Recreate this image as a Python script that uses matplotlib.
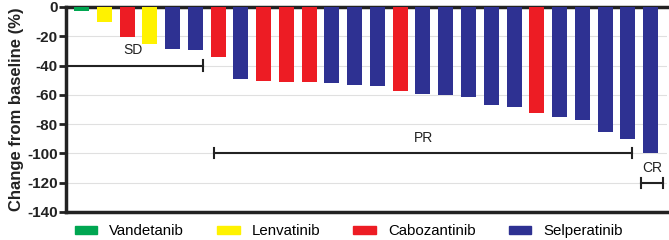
import matplotlib.pyplot as plt
from matplotlib.patches import Patch

plt.rcParams['font.family'] = ['Liberation Sans', 'DejaVu Sans']
plt.rcParams['axes.unicode_minus'] = False

# best change from baseline per patient, sorted
drugs = ['Vandetanib', 'Lenvatinib', 'Cabozantinib', 'Lenvatinib',
         'Selperatinib', 'Selperatinib', 'Cabozantinib', 'Selperatinib',
         'Cabozantinib', 'Cabozantinib', 'Cabozantinib', 'Selperatinib',
         'Selperatinib', 'Selperatinib', 'Cabozantinib', 'Selperatinib',
         'Selperatinib', 'Selperatinib', 'Selperatinib', 'Selperatinib',
         'Cabozantinib', 'Selperatinib', 'Selperatinib', 'Selperatinib',
         'Selperatinib', 'Selperatinib']
change = [-3, -10.4, -20.4, -25, -29, -29.4, -34, -49.2, -50.5, -51, -51.4,
          -51.9, -53.5, -53.9, -57.5, -59.4, -60, -61.6, -66.7, -68, -72.5,
          -75, -77, -85.5, -90.2, -100]

legend_order = ['Vandetanib', 'Lenvatinib', 'Cabozantinib', 'Selperatinib']
colors = {'Vandetanib': '#00a651', 'Lenvatinib': '#fff200',
          'Cabozantinib': '#ed1c24', 'Selperatinib': '#2e3192'}

# response groups: (label, start, end, y)
groups = [('SD', -0.68, 5.34, -40), ('PR', 5.82, 24.19, -100),
          ('CR', 24.57, 25.54, -120)]

fig = plt.figure(figsize=(6.69, 2.4), dpi=100)
ax = fig.add_axes([0.0987, 0.117, 0.8983, 0.854])

x = list(range(len(change)))
ax.bar(x, change, width=0.66, color=[colors[d] for d in drugs], zorder=3)

for name, x0, x1, y in groups:
    ax.plot([x0, x1], [y, y], color='#222222', lw=1.5, zorder=4, clip_on=False)
    ends = [x1] if name == 'SD' else [x0, x1]
    for xe in ends:
        ax.plot([xe, xe], [y - 3.5, y + 3.5], color='#222222', lw=1.5, zorder=4)
    ax.text((x0 + x1) / 2 if name != 'SD' else 2.26, y + 5.5, name,
            ha='center', va='bottom', fontsize=10, color='#222222')

ax.set_xlim(-0.68, 25.72)
ax.set_ylim(-140, 0)
ax.set_yticks(range(-140, 1, 20))
ax.set_xticks([])
ax.yaxis.grid(True, color='#e0e0e0', lw=0.8, zorder=0)
for lab in ax.get_yticklabels():
    lab.set_fontweight('bold')
ax.tick_params(axis='y', labelsize=11, width=2, length=5, pad=1,
               color='#222222', labelcolor='#222222')
ax.set_ylabel('Change from baseline (%)', fontsize=12, fontweight='bold',
              color='#222222', labelpad=2)

for s in ['left', 'top', 'bottom']:
    ax.spines[s].set_linewidth(2.5)
    ax.spines[s].set_color('#222222')
ax.spines['right'].set_visible(False)

handles = [Patch(color=colors[d], label=d) for d in legend_order]
fig.legend(handles=handles, loc='center left', bbox_to_anchor=(0.112, 0.038),
           ncol=4, frameon=False, fontsize=10.8, handlelength=1.5,
           handleheight=0.45, columnspacing=2.2, handletextpad=0.8,
           borderpad=0, borderaxespad=0)

fig.savefig('out.png', dpi=100)
